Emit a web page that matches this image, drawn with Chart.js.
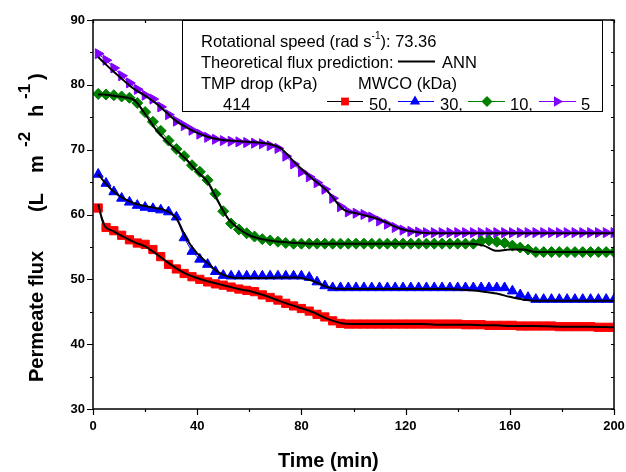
<!DOCTYPE html>
<html>
<head>
<meta charset="utf-8">
<script src="https://cdn.jsdelivr.net/npm/chart.js@4.4.1/dist/chart.umd.min.js"></script>
<style>
  html, body { margin: 0; padding: 0; background: #fff; }
  #wrap { width: 626px; height: 472px; }
</style>
</head>
<body>
<div id="wrap"><canvas id="myChart" width="626" height="472"></canvas></div>
<script>
// measured time points (min)
var time = [2,5,8,11,14,17,20,23,26,29,32,35,38,41,44,47,50,53,56,59,62,65,68,71,74,77,80,83,86,89,92,95,98,101,104,107,110,113,116,119,122,125,128,131,134,137,140,143,146,149,152,155,158,161,164,167,170,173,176,179,182,185,188,191,194,197,200];

// MWCO 50 kDa
var flux50 = [61.0,58.0,57.5,56.8,56.1,55.6,55.4,54.6,53.5,52.3,51.6,50.9,50.4,50.0,49.6,49.3,49.1,48.8,48.5,48.3,48.1,47.6,47.2,46.8,46.3,45.9,45.5,45.1,44.6,44.2,43.6,43.2,
  43.1,43.1,43.1,43.1,43.1,43.1,43.1,43.1,43.1,43.1,43.1,43.1,43.1,43.1,43.1,
  43.0,43.0,43.0,42.9,42.9,42.9,42.9,42.8,42.8,42.8,42.8,42.8,42.7,42.7,42.7,42.7,42.7,42.6,42.6,42.6];
// MWCO 30 kDa
var flux30 = [66.2,64.8,63.5,62.5,61.9,61.4,61.1,60.9,60.7,60.4,59.6,56.4,54.3,53.1,52.3,51.2,50.6,
  50.5,50.5,50.5,50.5,50.5,50.5,50.5,50.5,50.5,50.5,
  50.3,49.6,49.0,
  48.7,48.7,48.7,48.7,48.7,48.7,48.7,48.7,48.7,48.7,48.7,48.7,48.7,48.7,48.7,48.7,48.7,48.7,48.7,48.7,48.7,48.7,48.7,
  48.2,47.6,47.2,
  46.9,46.9,46.9,46.9,46.9,46.9,46.9,46.9,46.9,46.9,46.9];
// MWCO 10 kDa
var flux10 = [78.6,78.5,78.4,78.2,78.0,77.2,75.8,74.3,72.9,71.4,70.1,69.0,67.6,66.6,65.3,63.2,60.5,58.6,57.7,57.1,56.6,56.2,56.0,55.8,55.6,
  55.5,55.5,55.5,55.5,55.5,55.5,55.5,55.5,55.5,55.5,55.5,55.5,55.5,55.5,55.5,55.5,55.5,55.5,55.5,55.5,55.5,55.5,55.5,55.5,
  55.9,56.0,55.8,55.6,55.2,54.9,54.6,
  54.2,54.2,54.2,54.2,54.2,54.2,54.2,54.2,54.2,54.2,54.2];
// MWCO 5 kDa
var flux5 = [84.8,83.8,82.6,81.4,80.3,79.3,78.4,77.8,76.6,75.4,74.4,73.7,73.0,72.4,71.9,71.6,71.4,71.3,71.2,71.1,71.0,70.9,70.6,70.2,69.0,67.8,66.6,65.8,64.9,63.9,62.5,61.2,60.4,60.2,60.0,59.6,59.0,58.5,58.0,57.6,57.4,57.3,
  57.2,57.2,57.2,57.2,57.2,57.2,57.2,57.2,57.2,57.2,57.2,57.2,57.2,57.2,57.2,57.2,57.2,57.2,57.2,57.2,57.2,57.2,57.2,57.2,57.2];

// ANN prediction curves
var annTime = [2,4,8,12,16,20,24,28,32,36,40,44,48,52,56,60,66,72,78,84,90,96,102,110,118,126,135,145,150,155,160,165,170,180,190,200];
var ann50 = [61.6,58.6,57.4,56.5,55.7,55.1,54.0,52.8,51.7,50.8,50.2,49.7,49.3,48.9,48.5,48.2,47.5,46.6,45.8,45.0,43.9,43.2,43.1,43.1,43.1,43.1,43.0,43.0,42.9,42.9,42.8,42.8,42.8,42.7,42.7,42.6];
var ann30 = [66.2,65.2,63.5,62.4,61.7,61.3,61.0,60.6,59.4,56.2,54.0,52.5,51.1,50.4,50.2,50.2,50.2,50.3,50.3,49.8,48.8,48.5,48.5,48.5,48.5,48.5,48.5,48.3,48.1,47.8,47.3,46.9,46.7,46.7,46.7,46.7];
var ann10 = [78.5,78.5,78.3,78.1,77.6,75.5,73.2,71.4,69.9,68.4,66.6,65.0,62.0,59.3,57.8,56.8,56.1,55.8,55.6,55.5,55.5,55.5,55.5,55.5,55.5,55.5,55.5,55.5,55.2,54.4,54.6,54.6,54.2,54.2,54.2,54.2];
var ann5 = [84.3,83.5,82.0,80.6,79.3,78.3,77.2,75.8,74.4,73.4,72.6,72.0,71.6,71.4,71.3,71.2,71.0,70.2,67.8,65.6,63.6,60.8,60.1,59.2,57.8,57.2,57.1,57.1,57.1,57.1,57.1,57.1,57.1,57.1,57.1,57.1];

var FONT = '"Liberation Sans", Arial, sans-serif';

function pts(xs, ys){
    return xs.map(function(x, i){ return {x: x, y: ys[i]}; });
}

function markerSet(label, ys, color, lineColor, style, radius, rot){
    return {
        label: label, data: pts(time, ys), order: 2,
        borderColor: lineColor, borderWidth: 1,
        pointStyle: style, pointRadius: radius, pointRotation: rot || 0,
        pointBackgroundColor: color, pointBorderColor: color, pointBorderWidth: 1
    };
}

function annSet(ys){
    return {
        label: 'ANN', data: pts(annTime, ys), order: 0,
        borderColor: '#000', borderWidth: 2, pointRadius: 0,
        cubicInterpolationMode: 'monotone'
    };
}

// draw a marker shape by hand (used for the legend)
function drawMarker(ctx, style, x, y, r, color){
    ctx.save();
    ctx.fillStyle = color;
    ctx.beginPath();
    if (style === 'rect') {
        var s = r * Math.SQRT1_2;
        ctx.rect(x - s, y - s, 2 * s, 2 * s);
    } else if (style === 'diamond') {
        ctx.moveTo(x - r, y); ctx.lineTo(x, y - r); ctx.lineTo(x + r, y); ctx.lineTo(x, y + r);
    } else if (style === 'up') {
        ctx.moveTo(x, y - r); ctx.lineTo(x + r * 0.866, y + r / 2); ctx.lineTo(x - r * 0.866, y + r / 2);
    } else {
        ctx.moveTo(x + r, y); ctx.lineTo(x - r / 2, y - r * 0.866); ctx.lineTo(x - r / 2, y + r * 0.866);
    }
    ctx.closePath();
    ctx.fill();
    ctx.restore();
}

var framePlugin = {
    id: 'frame',
    afterDraw: function(chart){
        var ctx = chart.ctx;
        var a = chart.chartArea;
        var xs = chart.scales.x, ys = chart.scales.y;
        ctx.save();
        ctx.strokeStyle = '#000';
        ctx.lineWidth = 1.5;
        ctx.strokeRect(a.left, a.top, a.right - a.left, a.bottom - a.top);

        // ticks
        ctx.lineWidth = 1.2;
        ctx.beginPath();
        for (var v = 30; v <= 90; v += 5) {
            var py = Math.round(ys.getPixelForValue(v)) + 0.5;
            var len = (v % 10 === 0) ? 6 : 3;
            ctx.moveTo(a.left - len, py); ctx.lineTo(a.left, py);
            ctx.moveTo(a.right, py); ctx.lineTo(a.right - 3, py);
        }
        for (var t = 0; t <= 200; t += 20) {
            var px = Math.round(xs.getPixelForValue(t)) + 0.5;
            var l2 = (t % 40 === 0) ? 6 : 3;
            ctx.moveTo(px, a.bottom); ctx.lineTo(px, a.bottom + l2);
            ctx.moveTo(px, a.top); ctx.lineTo(px, a.top + 3);
        }
        ctx.stroke();

        // axis titles
        ctx.fillStyle = '#000';
        ctx.textBaseline = 'alphabetic';
        ctx.textAlign = 'left';
        ctx.font = 'bold 20px ' + FONT;
        ctx.fillText('Time (min)', 278, 467);

        ctx.save();
        ctx.translate(43, 382);
        ctx.rotate(-Math.PI / 2);
        ctx.font = 'bold 20px ' + FONT;
        ctx.fillText('Permeate flux', 0, 0);
        ctx.fillText('(L', 170, 0);
        ctx.fillText('m', 209, 0);
        ctx.fillText('h', 265, 0);
        ctx.fillText(')', 302, 0);
        ctx.font = 'bold 17px ' + FONT;
        ctx.fillText('-2', 235, -13);
        ctx.fillText('-1', 283, -13);
        ctx.restore();

        // legend box
        ctx.fillStyle = '#fff';
        ctx.fillRect(182, 20, 421, 92);
        ctx.lineWidth = 1;
        ctx.strokeRect(182.5, 20.5, 420, 91);
        ctx.fillStyle = '#000';
        ctx.font = '16.5px ' + FONT;
        var s1 = 'Rotational speed (rad s';
        ctx.fillText(s1, 201, 46.5);
        var w1 = ctx.measureText(s1).width;
        ctx.font = '10px ' + FONT;
        ctx.fillText('-1', 201 + w1, 39);
        var w2 = ctx.measureText('-1').width;
        ctx.font = '16.5px ' + FONT;
        ctx.fillText('): 73.36', 201 + w1 + w2, 46.5);

        ctx.fillText('Theoretical flux prediction:', 201, 67.5);
        ctx.fillText('ANN', 442, 67.5);
        ctx.fillText('TMP drop (kPa)', 201, 88.5);
        ctx.fillText('MWCO (kDa)', 358, 88.5);
        ctx.fillText('414', 223, 109.5);

        ctx.lineWidth = 2;
        ctx.beginPath();
        ctx.moveTo(398, 61.5); ctx.lineTo(435, 61.5);
        ctx.stroke();

        var entries = [
            {x0: 327, x1: 363, mx: 345, tx: 369, text: '50,', line: '#000', color: '#ff0000', style: 'rect', r: 5.5},
            {x0: 398, x1: 434, mx: 415, tx: 440, text: '30,', line: '#0000ff', color: '#0000ff', style: 'up', r: 6},
            {x0: 468, x1: 505, mx: 487, tx: 510, text: '10,', line: '#008000', color: '#008000', style: 'diamond', r: 5.5},
            {x0: 539, x1: 576, mx: 557, tx: 581, text: '5', line: '#8000ff', color: '#8000ff', style: 'right', r: 6}
        ];
        entries.forEach(function(e){
            ctx.strokeStyle = e.line;
            ctx.lineWidth = 1;
            ctx.beginPath();
            ctx.moveTo(e.x0, 101.5); ctx.lineTo(e.x1, 101.5);
            ctx.stroke();
            drawMarker(ctx, e.style, e.mx, 101.5, e.r, e.color);
            ctx.fillStyle = '#000';
            ctx.fillText(e.text, e.tx, 109.5);
        });
        ctx.restore();
    }
};

function drawGraph(){
    var ctx = document.getElementById('myChart');
    var tickFont = {family: FONT, size: 13, weight: 'bold'};
    new Chart(ctx, {
        type: 'line',
        data: {
            datasets: [
                annSet(ann50), annSet(ann30), annSet(ann10), annSet(ann5),
                markerSet('50', flux50, '#ff0000', '#000', 'rect', 5.8),
                markerSet('30', flux30, '#0000ff', '#0000ff', 'triangle', 5.8),
                markerSet('10', flux10, '#008000', '#008000', 'rectRot', 5.5),
                markerSet('5', flux5, '#8000ff', '#8000ff', 'triangle', 5.8, 90)
            ]
        },
        options: {
            responsive: false,
            animation: false,
            layout: {padding: {left: 0, right: 12, top: 20, bottom: 0}},
            plugins: {legend: {display: false}, tooltip: {enabled: false}},
            scales: {
                x: {
                    type: 'linear', min: 0, max: 200,
                    grid: {display: false, drawTicks: false}, border: {display: false},
                    ticks: {
                        stepSize: 20, autoSkip: false, maxRotation: 0, padding: 10,
                        color: '#000', font: tickFont,
                        callback: function(v){ return v % 40 === 0 ? v : ''; }
                    },
                    afterFit: function(s){ s.height = 63; s.paddingLeft = 0; s.paddingRight = 0; }
                },
                y: {
                    min: 30, max: 90,
                    grid: {display: false, drawTicks: false}, border: {display: false},
                    ticks: {
                        stepSize: 5, autoSkip: false, padding: 8,
                        color: '#000', font: tickFont,
                        callback: function(v){ return v % 10 === 0 ? v : ''; }
                    },
                    afterFit: function(s){ s.width = 93; s.paddingTop = 0; s.paddingBottom = 0; }
                }
            }
        },
        plugins: [framePlugin]
    });
}

drawGraph();
</script>
</body>
</html>
